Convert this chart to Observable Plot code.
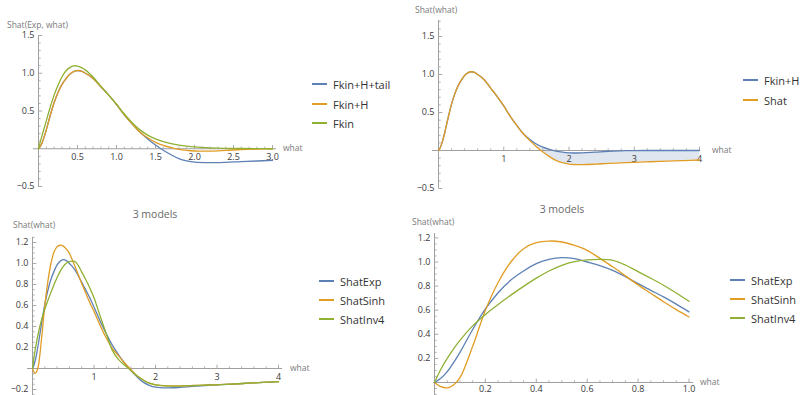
<!DOCTYPE html>
<html><head><meta charset="utf-8">
<script src="https://cdn.jsdelivr.net/npm/d3@7"></script>
<script src="https://cdn.jsdelivr.net/npm/@observablehq/plot@0.6"></script>
<style>
body{margin:0;background:#fff;}
#wrap{position:relative;width:804px;height:395px;overflow:hidden;font-family:"Open Sans",sans-serif;background:#fff;}
.panel{position:absolute;}
.txt{position:absolute;white-space:nowrap;transform:translateY(-50%);line-height:1;}
.axlbl{color:#7a7a7a;font-size:8.5px;}
.title{color:#6a6a6a;font-size:10.5px;transform:translate(-50%,-50%);}
.leg{color:#333;font-size:11px;}
.legline{position:absolute;height:1.4px;}
</style></head><body><div id="wrap"></div>
<script>
// ---- data ----
const xs = [0,0.025,0.05,0.075,0.1,
  0.15,0.2,0.25,0.3,0.35,0.4,0.45,0.5,0.55,0.6,0.65,0.7,0.75,0.8,0.85,0.9,0.95,1.0,
  1.1,1.2,1.3,1.4,1.5,1.6,1.7,1.8,1.9,2.0,
  2.2,2.4,2.6,2.8,3.0,
  3.25,3.5,3.75,4.0];
// ShatExp = Fkin+H+tail = Shat
const shatExp = [0,0.035,0.09,0.165,0.25,
  0.44,0.61,0.745,0.85,0.925,0.986,1.022,1.036,1.028,1.0,0.97,0.93,0.878,0.82,0.765,0.71,0.65,0.586,
  0.45,0.33,0.22,0.13,0.05,-0.02,-0.08,-0.13,-0.16,-0.178,
  -0.185,-0.18,-0.17,-0.162,-0.155,
  -0.148,-0.14,-0.132,-0.125];
const fkinH = [0,0.035,0.09,0.165,0.25,
  0.44,0.61,0.745,0.85,0.925,0.986,1.022,1.036,1.028,1.0,0.97,0.93,0.878,0.82,0.765,0.71,0.65,0.586,
  0.45,0.33,0.22,0.145,0.085,0.045,0.015,-0.008,-0.022,-0.03,
  -0.032,-0.022,-0.01,-0.004,-0.001,
  0,0,0,0];
const fkin = [0,0.1,0.19,0.28,0.37,
  0.55,0.71,0.84,0.95,1.03,1.075,1.098,1.095,1.075,1.045,1.0,0.95,0.89,0.83,0.77,0.71,0.65,0.59,
  0.46,0.345,0.25,0.18,0.13,0.095,0.068,0.048,0.034,0.024,
  0.012,0.006,0.003,0.001,0,
  0,0,0,0];
const shatSinh = [0,-0.035,-0.044,-0.02,0.04,
  0.3,0.6,0.83,1.0,1.11,1.16,1.174,1.166,1.138,1.097,1.03,0.96,0.885,0.81,0.74,0.67,0.605,0.544,
  0.41,0.29,0.19,0.12,0.05,-0.01,-0.07,-0.11,-0.14,-0.155,
  -0.165,-0.165,-0.162,-0.158,-0.155,
  -0.148,-0.14,-0.132,-0.125];
const shatInv4 = [0,0.11,0.2,0.28,0.35,
  0.47,0.565,0.648,0.725,0.798,0.866,0.925,0.972,1.003,1.018,1.022,1.014,0.975,0.92,0.865,0.807,0.743,0.674,
  0.5,0.33,0.17,0.085,0.03,-0.02,-0.07,-0.11,-0.14,-0.155,
  -0.168,-0.167,-0.163,-0.158,-0.155,
  -0.148,-0.14,-0.132,-0.125];

const names1 = ["Fkin+H+tail","Fkin+H","Fkin"];
const names2 = ["Fkin+H","Shat"];
const names3 = ["ShatExp","ShatSinh","ShatInv4"];

const ticksX1 = [0.5,1.0,1.5,2.0,2.5,3.0], labelsX1 = ["0.5","1.0","1.5","2.0","2.5","3.0"];
const ticksY1 = [-0.5,0.5,1.0,1.5], labelsY1 = ["\u22120.5","0.5","1.0","1.5"];
const ticksX2 = [1,2,3,4], labelsX2 = ["1","2","3","4"];
const ticksY3 = [-0.2,0.2,0.4,0.6,0.8,1.0,1.2], labelsY3 = ["\u22120.2","0.2","0.4","0.6","0.8","1.0","1.2"];
const ticksX4 = [0.2,0.4,0.6,0.8,1.0], labelsX4 = ["0.2","0.4","0.6","0.8","1.0"];
const ticksY4 = [0.2,0.4,0.6,0.8,1.0,1.2], labelsY4 = ["0.2","0.4","0.6","0.8","1.0","1.2"];

const C = {blue:"#5E81B5", orange:"#E19C24", green:"#8FB032"};
const axisC = "#a0a0a0", tickTxt = "#3a3a3a";

// ---- helpers ----
const tickUp = {draw(ctx,size){const l=Math.sqrt(size/Math.PI);ctx.moveTo(0,0);ctx.lineTo(0,-l);}};
const tickRight = {draw(ctx,size){const l=Math.sqrt(size/Math.PI);ctx.moveTo(0,0);ctx.lineTo(l,0);}};
function minorTicks(a,b,step,majors){
  const out=[];
  for(let v=a; v<=b+1e-9; v+=step){const r=Math.round(v*1000)/1000; if(!majors.some(m=>Math.abs(m-r)<1e-6) && Math.abs(r)>1e-9) out.push(r);}
  return out;
}
function rows(values, xmax){return xs.map((x,i)=>({x, y:values[i]})).filter(d=>d.x<=xmax+1e-9);}

const wrap = document.getElementById("wrap");
function addText(cls, text, x, y){
  const d=document.createElement("div"); d.className="txt "+cls; d.textContent=text;
  d.style.left=x+"px"; d.style.top=y+"px"; wrap.appendChild(d);
}
function addLegend(names, colors, x, ys){
  names.forEach((n,i)=>{
    const l=document.createElement("div"); l.className="legline";
    l.style.left=x+"px"; l.style.top=(ys[i]-0.7)+"px"; l.style.width="15px"; l.style.background=colors[i];
    wrap.appendChild(l);
    addText("leg", n, x+21, ys[i]);
  });
}

function panel(p){
  const marks = [];
  if (p.area) marks.push(p.area);
  marks.push(
    Plot.ruleY([0],{stroke:axisC,strokeWidth:1}),
    Plot.ruleX([0],{stroke:axisC,strokeWidth:1}),
    Plot.dot(p.minorX,{x:d=>d,y:0,symbol:tickUp,r:2.2,stroke:axisC,fill:"none",strokeWidth:0.8}),
    Plot.dot(p.ticksX,{x:d=>d,y:0,symbol:tickUp,r:3.8,stroke:axisC,fill:"none",strokeWidth:0.9}),
    Plot.dot(p.minorY,{x:0,y:d=>d,symbol:tickRight,r:2.2,stroke:axisC,fill:"none",strokeWidth:0.8}),
    Plot.dot(p.ticksY,{x:0,y:d=>d,symbol:tickRight,r:3.8,stroke:axisC,fill:"none",strokeWidth:0.9}),
    Plot.text(p.ticksX,{x:d=>d,y:0,text:(d,i)=>p.labelsX[i],dy:p.xdy||8.5,fontSize:9,fill:tickTxt}),
    Plot.text(p.ticksY,{x:0,y:d=>d,text:(d,i)=>p.labelsY[i],dx:-4,textAnchor:"end",fontSize:9,fill:tickTxt})
  );
  p.series.forEach(s=>marks.push(Plot.line(rows(s.values,p.xmax),{x:"x",y:"y",stroke:s.color,strokeWidth:1.3,curve:"catmull-rom"})));
  const fig = Plot.plot({
    width:p.w, height:p.h,
    marginLeft:p.fl, marginRight:p.fr, marginTop:p.ft, marginBottom:p.fb,
    style:{fontFamily:"Open Sans, sans-serif",background:"transparent",overflow:"visible"},
    x:{domain:p.xd, range:p.xr, axis:null},
    y:{domain:p.yd, range:p.yr, axis:null},
    marks
  });
  fig.classList.add("panel");
  fig.style.left=p.left+"px"; fig.style.top=p.top+"px";
  wrap.appendChild(fig);
}

// Panel 1
panel({left:0,top:0,w:400,h:200, fl:33,fr:124,ft:35,fb:13,
  xd:[0,3], xr:[38,272], yd:[-0.5,1.5], yr:[186,35], xmax:3,
  ticksX:ticksX1, labelsX:labelsX1, ticksY:ticksY1, labelsY:labelsY1,
  minorX:minorTicks(0,3,0.1,ticksX1), minorY:minorTicks(-0.5,1.5,0.1,ticksY1),
  series:[{values:shatExp,color:C.blue},{values:fkinH,color:C.orange},{values:fkin,color:C.green}]});
addText("axlbl","Shat(Exp, what)",7,25);
addText("axlbl","what",283,148);
addLegend(names1,[C.blue,C.orange,C.green],312,[84,104,123]);

// Panel 2
const areaRows = xs.map((x,i)=>({x, y1:shatExp[i], y2:fkinH[i]})).filter(d=>d.x>=1.3);
panel({left:400,top:0,w:404,h:200, fl:32,fr:104,ft:20,fb:12,
  xd:[0,4], xr:[38,299], yd:[-0.5,1.5], yr:[188,36], xmax:4,
  area: Plot.areaY(areaRows,{x:"x",y1:"y1",y2:"y2",fill:C.blue,fillOpacity:0.2,curve:"catmull-rom"}),
  ticksX:ticksX2, labelsX:labelsX2, ticksY:ticksY1, labelsY:labelsY1,
  minorX:minorTicks(0,4,0.2,ticksX2), minorY:minorTicks(-0.5,1.7,0.1,ticksY1),
  series:[{values:fkinH,color:C.blue},{values:shatExp,color:C.orange}]});
addText("axlbl","Shat(what)",415,10);
addText("axlbl","what",712,150);
addLegend(names2,[C.blue,C.orange],743,[80,100]);

// Panel 3
panel({left:0,top:200,w:400,h:195, fl:27,fr:118,ft:37,fb:0,
  xd:[0,4], xr:[32,278], yd:[-0.2,1.2], yr:[189,42], xmax:4,
  ticksX:ticksX2, labelsX:labelsX2, ticksY:ticksY3, labelsY:labelsY3,
  minorX:minorTicks(0,4,0.2,ticksX2), minorY:minorTicks(-0.25,1.25,0.05,ticksY3),
  series:[{values:shatExp,color:C.blue},{values:shatSinh,color:C.orange},{values:shatInv4,color:C.green}]});
addText("title","3 models",155,214);
addText("axlbl","Shat(what)",13,225);
addText("axlbl","what",290,368);
addLegend(names3,[C.blue,C.orange,C.green],319,[281,300,319]);

// Panel 4
panel({left:400,top:200,w:404,h:195, fl:33,fr:111,ft:33,fb:0, xdy:7,
  xd:[0,1], xr:[34,288.5], yd:[0,1.2], yr:[182,37.4], xmax:1,
  ticksX:ticksX4, labelsX:labelsX4, ticksY:ticksY4, labelsY:labelsY4,
  minorX:minorTicks(0,1,0.05,ticksX4), minorY:minorTicks(-0.1,1.23,0.05,ticksY4),
  series:[{values:shatExp,color:C.blue},{values:shatSinh,color:C.orange},{values:shatInv4,color:C.green}]});
addText("title","3 models",562,209);
addText("axlbl","Shat(what)",412,222);
addText("axlbl","what",700,382);
addLegend(names3,[C.blue,C.orange,C.green],730,[280,299,318]);
</script></body></html>
